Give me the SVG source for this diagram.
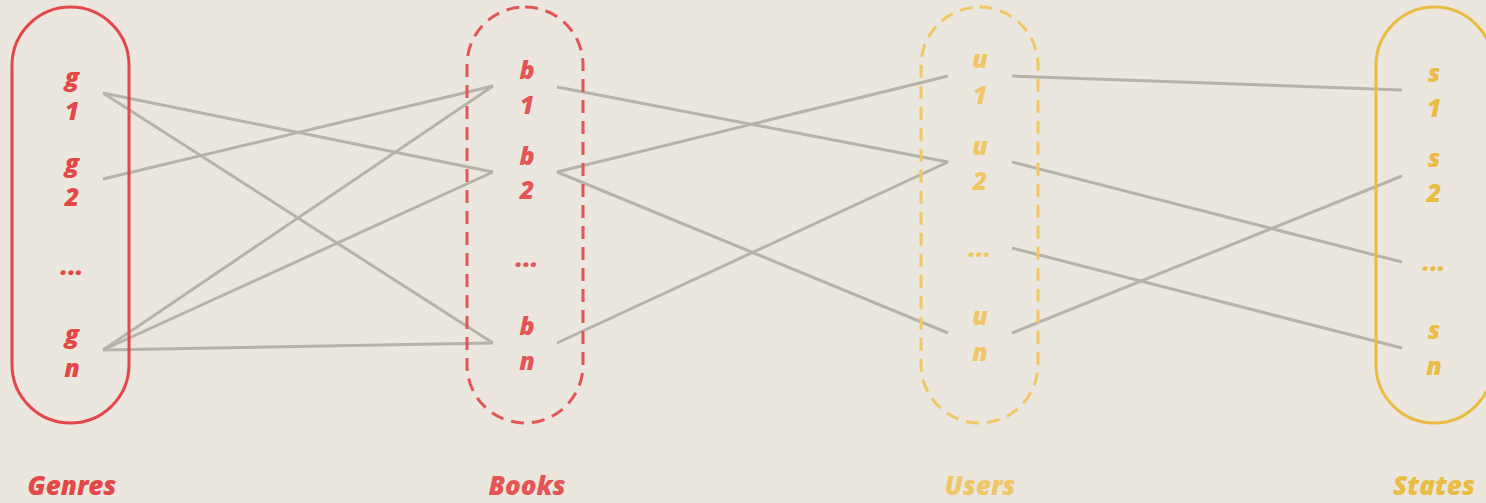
<svg xmlns="http://www.w3.org/2000/svg" width="1486" height="503" viewBox="0 0 1486 503">
<style>
.bg{fill:#ebe6de}
.t{font-family:"Open Sans","Liberation Sans",sans-serif;font-weight:800;font-style:italic;text-anchor:middle;font-size:25px}
.lab{font-family:"Open Sans","Liberation Sans",sans-serif;font-weight:800;font-style:italic;text-anchor:middle;font-size:26px}
.red{fill:#e34848}
.red2{fill:#e25656}
.yel{fill:#efc766}
.yel2{fill:#e9bc43}
.cap{fill:none;stroke-width:3}
.edge{stroke:#b6b3a9;stroke-width:3;fill:none;stroke-linecap:butt}
</style>
<rect class="bg" x="0" y="0" width="1486" height="503"/>
<g id="connectors">
<line class="edge" x1="103" y1="93" x2="493" y2="172"/>
<line class="edge" x1="103" y1="93" x2="493" y2="343"/>
<line class="edge" x1="103" y1="179" x2="493" y2="86"/>
<line class="edge" x1="103" y1="350" x2="493" y2="86"/>
<line class="edge" x1="103" y1="350" x2="493" y2="172"/>
<line class="edge" x1="103" y1="350" x2="493" y2="343"/>
<line class="edge" x1="557" y1="87" x2="948" y2="162"/>
<line class="edge" x1="557" y1="172" x2="948" y2="76"/>
<line class="edge" x1="557" y1="172" x2="948" y2="333"/>
<line class="edge" x1="557" y1="343" x2="948" y2="162"/>
<line class="edge" x1="1012" y1="76" x2="1402" y2="90"/>
<line class="edge" x1="1012" y1="162" x2="1402" y2="262"/>
<line class="edge" x1="1012" y1="248" x2="1402" y2="348"/>
<line class="edge" x1="1012" y1="333" x2="1402" y2="176"/>
</g>
<g id="genres">
<rect class="cap" x="12" y="7" width="117" height="416" rx="58.5" stroke="#e34848"/>
<text class="t red" x="72" y="86">g</text>
<text class="t red" x="72" y="120">1</text>
<text class="t red" x="72" y="172">g</text>
<text class="t red" x="72" y="206">2</text>
<text class="t red" x="72" y="275">...</text>
<text class="t red" x="72" y="343">g</text>
<text class="t red" x="72" y="377">n</text>
<text class="lab red" x="72" y="495">Genres</text>
</g>
<g id="books">
<rect class="cap" x="467" y="7" width="116" height="416" rx="58" stroke="#e25656" stroke-dasharray="13 8"/>
<text class="t red2" x="527" y="79">b</text>
<text class="t red2" x="527" y="114">1</text>
<text class="t red2" x="527" y="165">b</text>
<text class="t red2" x="527" y="199">2</text>
<text class="t red2" x="527" y="267">...</text>
<text class="t red2" x="527" y="335">b</text>
<text class="t red2" x="527" y="370">n</text>
<text class="lab red2" x="527" y="495">Books</text>
</g>
<g id="users">
<rect class="cap" x="921" y="7" width="117" height="416" rx="58.5" stroke="#efc766" stroke-dasharray="13 8"/>
<text class="t yel" x="980" y="68">u</text>
<text class="t yel" x="980" y="104">1</text>
<text class="t yel" x="980" y="155">u</text>
<text class="t yel" x="980" y="190">2</text>
<text class="t yel" x="980" y="257">...</text>
<text class="t yel" x="980" y="325">u</text>
<text class="t yel" x="980" y="361">n</text>
<text class="lab yel" x="980" y="495">Users</text>
</g>
<g id="states">
<rect class="cap" x="1376" y="7" width="117" height="416" rx="58.5" stroke="#e9bc43"/>
<text class="t yel2" x="1434" y="82">s</text>
<text class="t yel2" x="1434" y="117">1</text>
<text class="t yel2" x="1434" y="167">s</text>
<text class="t yel2" x="1434" y="202">2</text>
<text class="t yel2" x="1434" y="271">...</text>
<text class="t yel2" x="1434" y="339">s</text>
<text class="t yel2" x="1434" y="375">n</text>
<text class="lab yel2" x="1434" y="495">States</text>
</g>
</svg>
